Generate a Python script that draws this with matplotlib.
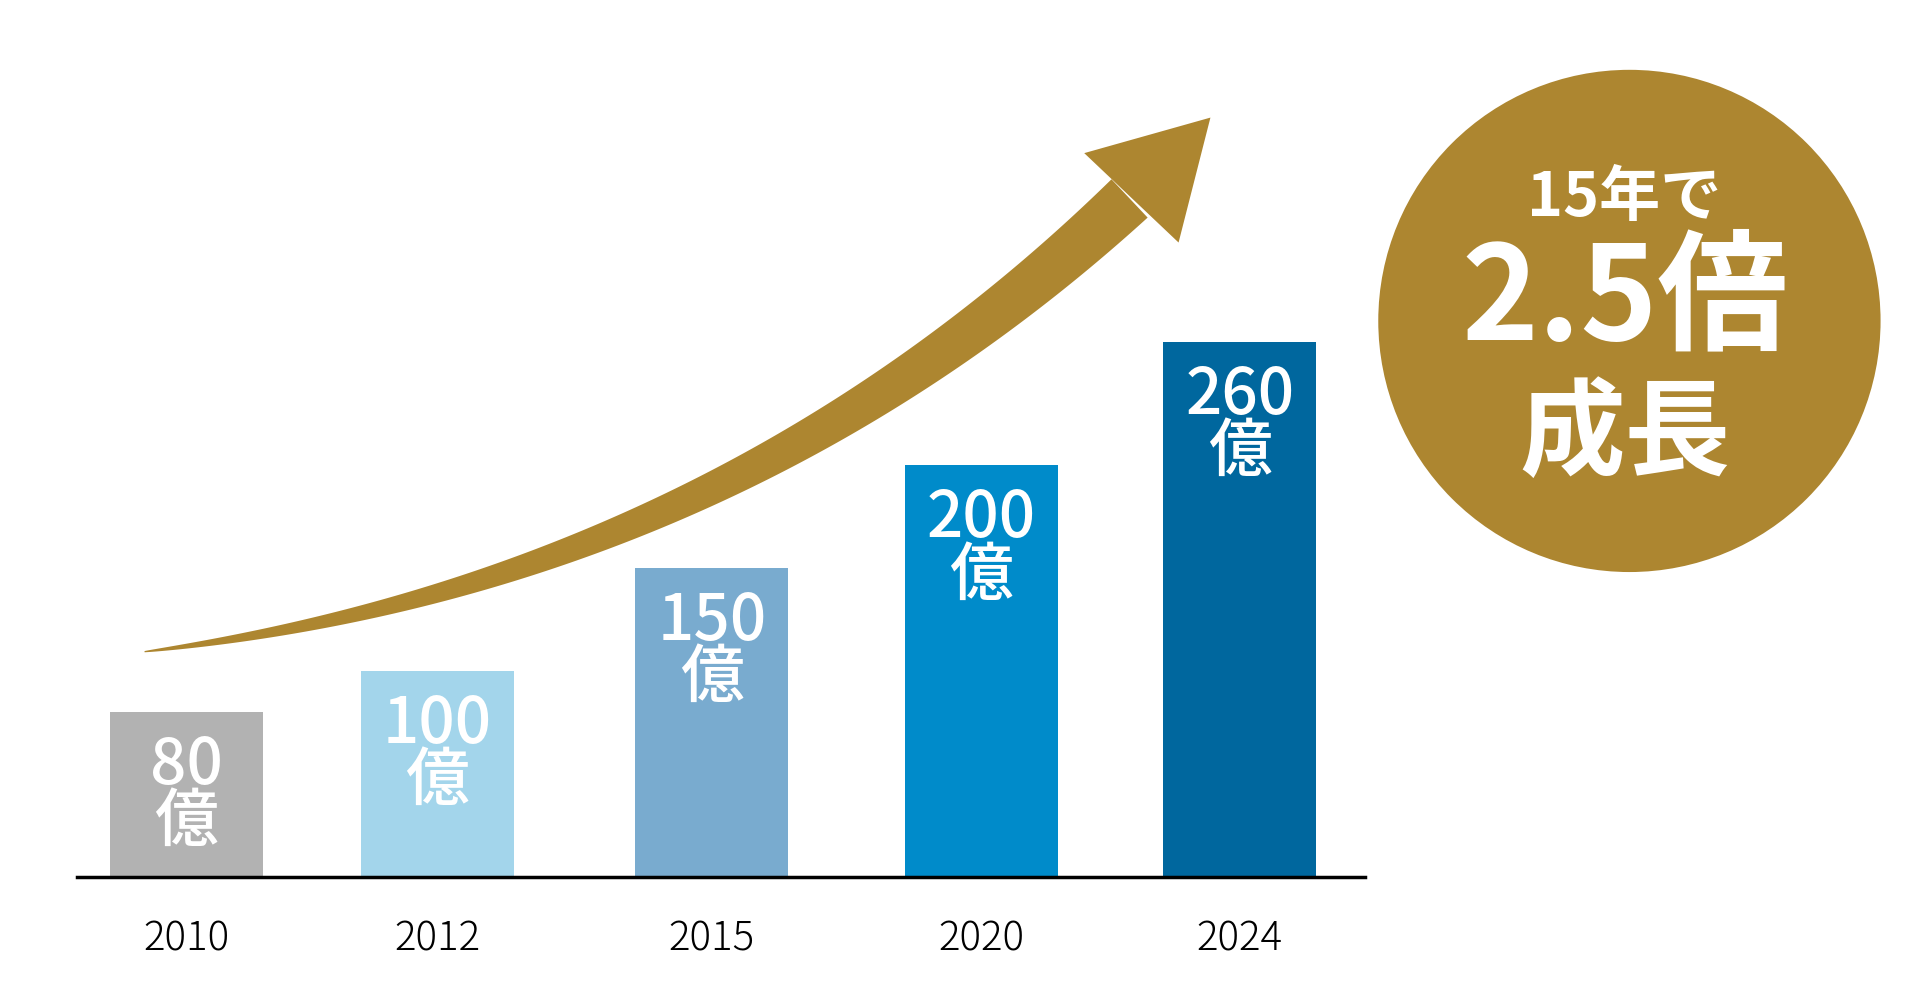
import matplotlib
matplotlib.use("Agg")
import matplotlib.pyplot as plt
import numpy as np
from matplotlib.patches import Circle, Polygon

plt.rcParams['font.family'] = ['Noto Sans CJK JP', 'DejaVu Sans']

years = ["2010", "2012", "2015", "2020", "2024"]
values = [80, 100, 150, 200, 260]
labels = ["80\n億", "100\n億", "150\n億", "200\n億", "260\n億"]
colors = ["#B2B2B2", "#A3D5EB", "#79ABCF", "#008BCA", "#00679E"]
gold = "#AD8630"

W, H = 1568, 818
fig = plt.figure(figsize=(19.21, 10.02), dpi=100)

base = 716
ax = fig.add_axes([63 / W, 1 - base / H, (1114 - 63) / W, base / H])
ax.set_xlim(63, 1114)
ax.set_ylim(0, base / 1.68)
centers = [152, 357, 581, 801, 1012]
ax.bar(centers, values, width=125, color=colors)
for c, v, lab in zip(centers, values, labels):
    ax.text(c, v - 10, lab, ha='center', va='top', color='white', fontsize=46,
            fontweight='medium', linespacing=0.85)
ax.set_xticks(centers)
ax.set_xticklabels(years, fontsize=29, fontweight='light')
ax.tick_params(length=0, pad=30)
for s in ['top', 'right', 'left']:
    ax.spines[s].set_visible(False)
ax.spines['bottom'].set_linewidth(2.5)
ax.set_yticks([])

ov = fig.add_axes([0, 0, 1, 1], zorder=5)
ov.set_xlim(0, W)
ov.set_ylim(H, 0)
ov.axis('off')

P0 = np.array([118, 532]); P1 = np.array([590, 475]); P2 = np.array([922, 162])
t = np.linspace(0, 1, 200)[:, None]
pts = (1 - t) ** 2 * P0 + 2 * (1 - t) * t * P1 + t ** 2 * P2
d = 2 * (1 - t) * (P1 - P0) + 2 * t * (P2 - P1)
n = np.column_stack([-d[:, 1], d[:, 0]])
n /= np.linalg.norm(n, axis=1)[:, None]
w = (0.5 + 21 * t[:, 0] ** 0.8)
upper = pts + n * w[:, None]
lower = pts - n * w[:, None]
ov.add_patch(Polygon(np.vstack([upper, lower[::-1]]), closed=True, color=gold, lw=0))
ov.add_patch(Polygon([[885, 125], [988, 96], [962, 198]], closed=True, color=gold, lw=0))

ov.add_patch(Circle((1330, 262), 205, color=gold, lw=0))
ov.text(1326, 162, "15年で", ha='center', va='center', color='white', fontsize=44, fontweight='bold')
ov.text(1326, 246, "2.5倍", ha='center', va='center', color='white', fontsize=94, fontweight='bold')
ov.text(1326, 356, "成長", ha='center', va='center', color='white', fontsize=76, fontweight='bold')

fig.savefig("out.png", dpi=100)
